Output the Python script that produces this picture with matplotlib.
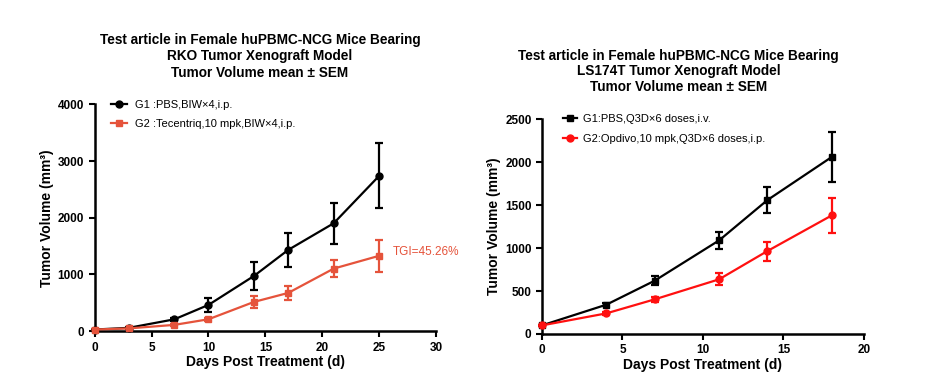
import matplotlib
matplotlib.use("Agg")
import matplotlib.pyplot as plt
from matplotlib.lines import Line2D

plt.rcParams['font.family'] = ['Liberation Sans', 'DejaVu Sans']

# Left chart data (RKO)
days_l = [0, 3, 7, 10, 14, 17, 21, 25]
g1_l = [30, 60, 210, 464, 975, 1433, 1903, 2740]
g1_l_err = [15, 20, 30, 120, 240, 300, 360, 570]
g2_l = [30, 50, 112, 211, 517, 675, 1104, 1330]
g2_l_err = [15, 15, 20, 30, 110, 130, 150, 285]
labels_l = ["G1 :PBS,BIW×4,i.p.", "G2 :Tecentriq,10 mpk,BIW×4,i.p."]
title_l = "Test article in Female huPBMC-NCG Mice Bearing\nRKO Tumor Xenograft Model\nTumor Volume mean ± SEM"
tgi_text = "TGI=45.26%"

# Right chart data (LS174T)
days_r = [0, 4, 7, 11, 14, 18]
g1_r = [100, 341, 620, 1089, 1558, 2060]
g1_r_err = [10, 15, 50, 100, 153, 290]
g2_r = [100, 240, 403, 636, 965, 1380]
g2_r_err = [10, 15, 25, 70, 110, 205]
labels_r = ["G1:PBS,Q3D×6 doses,i.v.", "G2:Opdivo,10 mpk,Q3D×6 doses,i.p."]
title_r = "Test article in Female huPBMC-NCG Mice Bearing\nLS174T Tumor Xenograft Model\nTumor Volume mean ± SEM"

orange = "#E5533B"
red = "#FF1010"

fig = plt.figure(figsize=(9.28, 3.92), dpi=100)
axl = fig.add_axes([0.102, 0.155, 0.368, 0.579])
axr = fig.add_axes([0.584, 0.148, 0.347, 0.548])


def style(ax):
    for s in ['top', 'right']:
        ax.spines[s].set_visible(False)
    for s in ['left', 'bottom']:
        ax.spines[s].set_linewidth(1.8)
    ax.tick_params(width=1.5, length=4, labelsize=8.5)
    for lab in ax.get_xticklabels() + ax.get_yticklabels():
        lab.set_fontweight('bold')
    ax.set_xlabel("Days Post Treatment (d)", fontsize=10, fontweight='bold', labelpad=1)
    ax.set_ylabel("Tumor Volume (mm³)", fontsize=10, fontweight='bold', labelpad=3)


def handles(colors, markers, labels):
    return [Line2D([], [], color=c, marker=m, ms=5, lw=1.6, label=l)
            for c, m, l in zip(colors, markers, labels)]


kw = dict(ms=5, lw=1.6, capsize=3, elinewidth=1.6, capthick=1.6, clip_on=False, zorder=3)

# Left
axl.errorbar(days_l, g1_l, yerr=g1_l_err, color='black', marker='o', **kw)
axl.errorbar(days_l, g2_l, yerr=g2_l_err, color=orange, marker='s', **kw)
axl.set_xlim(0, 30)
axl.set_ylim(0, 4000)
axl.set_xticks([0, 5, 10, 15, 20, 25, 30])
axl.set_yticks([0, 1000, 2000, 3000, 4000])
style(axl)
axl.text(26.2, 1397, tgi_text, color=orange, fontsize=8.5, va='center', ha='left')
axl.legend(handles=handles(['black', orange], ['o', 's'], labels_l),
           loc='upper left', bbox_to_anchor=(0.02, 1.065), frameon=False, fontsize=8,
           handlelength=1.4, handletextpad=0.7, labelspacing=0.85)
fig.text(0.28, 0.856, title_l, ha='center', va='center', fontsize=9.8, fontweight='bold', linespacing=1.2)

# Right
axr.errorbar(days_r, g1_r, yerr=g1_r_err, color='black', marker='s', **kw)
axr.errorbar(days_r, g2_r, yerr=g2_r_err, color=red, marker='o', **kw)
axr.set_xlim(0, 20)
axr.set_ylim(0, 2500)
axr.set_xticks([0, 5, 10, 15, 20])
axr.set_yticks([0, 500, 1000, 1500, 2000, 2500])
style(axr)
axr.legend(handles=handles(['black', red], ['s', 'o'], labels_r),
           loc='upper left', bbox_to_anchor=(0.035, 1.07), frameon=False, fontsize=8,
           handlelength=1.2, handletextpad=0.6, labelspacing=0.85)
fig.text(0.731, 0.818, title_r, ha='center', va='center', fontsize=9.8, fontweight='bold', linespacing=1.15)

fig.savefig("out.png", dpi=100)
